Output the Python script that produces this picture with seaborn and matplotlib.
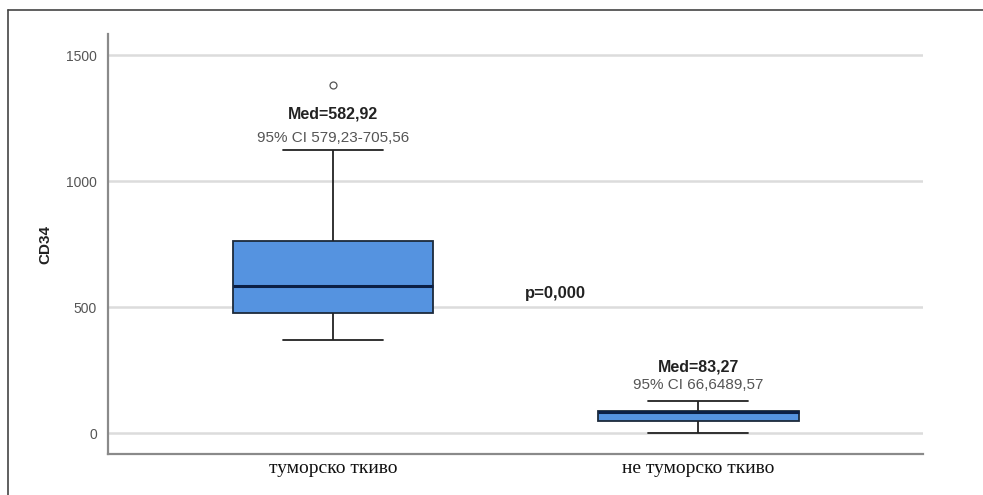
import matplotlib
matplotlib.use("Agg")
import matplotlib.pyplot as plt
from matplotlib.lines import Line2D
import pandas as pd
import numpy as np
import seaborn as sns

# groups and values (repeated values reproduce the quartiles)
groups = ["туморско ткиво", "не туморско ткиво"]
tumor_vals = [369, 475, 475, 583, 583, 762, 762, 1123, 1381]
normal_vals = [0, 48, 48, 83, 83, 88, 88, 128, 128]

med_labels = ["Med=582,92", "Med=83,27"]
ci_labels = ["95% CI 579,23-705,56", "95% CI 66,6489,57"]
med_y = [1268, 262]  # value level of the "Med=" text above each box
ci_y = [1170, 192]
p_text = "p=0,000"
yticks = [0, 500, 1000, 1500]

df = pd.DataFrame({
    "group": [groups[0]] * len(tumor_vals) + [groups[1]] * len(normal_vals),
    "CD34": tumor_vals + normal_vals,
})

sns.set_style("white")
plt.rcParams['font.family'] = ['Liberation Sans', 'DejaVu Sans']

fig = plt.figure(figsize=(9.83, 4.95), dpi=100)
ax = fig.add_axes([0.1099, 0.0828, 0.8291, 0.8482])

sns.boxplot(data=df, x="group", y="CD34", ax=ax, width=0.55,
            color="#5593E0", saturation=1, linewidth=1.3,
            boxprops=dict(facecolor="#5593E0", edgecolor="#1c2a3a"),
            medianprops=dict(color="#0b1f45", linewidth=2.2),
            whiskerprops=dict(color="#222222", linewidth=1.3),
            capprops=dict(color="#222222", linewidth=1.3),
            flierprops=dict(marker="o", markersize=5, markerfacecolor="white",
                            markeredgecolor="#555555", markeredgewidth=0.9))

ax.set_xlim(-0.616, 1.616)
ax.set_ylim(-83, 1583)
ax.set_yticks(yticks)
ax.set_yticklabels([str(t) for t in yticks], color="#555555", fontsize=10)
ax.tick_params(axis="y", length=0, pad=8)
ax.tick_params(axis="x", length=0, pad=4)
ax.yaxis.grid(True, color="#dcdcdc", linewidth=1.8)
ax.set_axisbelow(True)

ax.set_xticks([0, 1])
ax.set_xticklabels(groups, family="Liberation Serif", fontsize=14, color="#111111")
ax.set_xlabel("")
ax.set_ylabel("CD34", fontsize=11, fontweight="bold", color="#222222", labelpad=10)

for s in ["top", "right"]:
    ax.spines[s].set_visible(False)
for s in ["left", "bottom"]:
    ax.spines[s].set_color("#8a8a8a")
    ax.spines[s].set_linewidth(1.6)

# annotations
for i in range(len(groups)):
    ax.text(i, med_y[i], med_labels[i], ha="center", va="center",
            fontsize=11.5, fontweight="bold", color="#222222")
    ax.text(i, ci_y[i], ci_labels[i], ha="center", va="center",
            fontsize=11, color="#555555")
ax.text(0.61, 555, p_text, ha="center", va="center", fontsize=12,
        fontweight="bold", color="#222222")

# outer frame, partly cut off
fig.add_artist(Line2D([8 / 983, 1], [1 - 10 / 495, 1 - 10 / 495],
                      transform=fig.transFigure, color="#444444", linewidth=1.2))
fig.add_artist(Line2D([8 / 983, 8 / 983], [0, 1 - 10 / 495],
                      transform=fig.transFigure, color="#444444", linewidth=1.2))

fig.savefig("out.png", dpi=100)
